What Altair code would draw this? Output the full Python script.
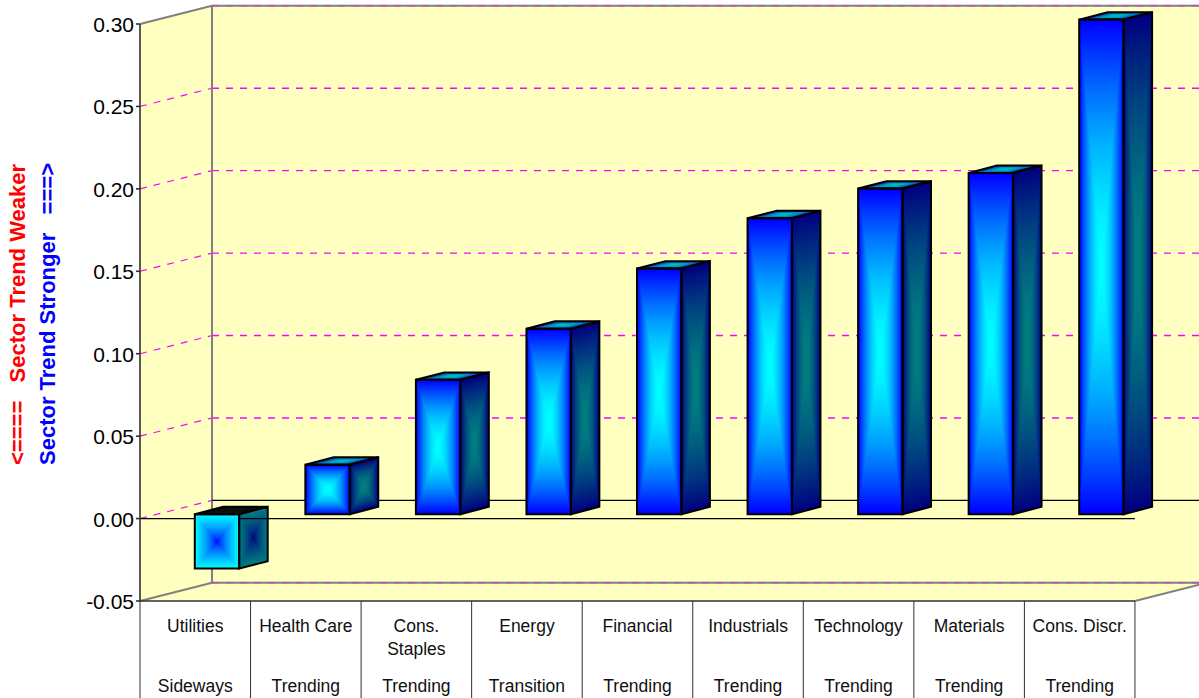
import altair as alt
import pandas as pd

# Sector trend readings, weakest to strongest
sectors = ["Utilities", "Health Care", "Cons.", "Energy", "Financial",
           "Industrials", "Technology", "Materials", "Cons. Discr."]
second_lines = ["", "", "Staples", "", "", "", "", "", ""]
states = ["Sideways", "Trending", "Trending", "Transition", "Trending",
          "Trending", "Trending", "Trending", "Trending"]
values = [-0.033, 0.030, 0.0815, 0.1125, 0.149, 0.1795, 0.1975, 0.207, 0.30]
y_ticks = [-0.05, 0.00, 0.05, 0.10, 0.15, 0.20, 0.25, 0.30]
grid_levels = [0.05, 0.10, 0.15, 0.20, 0.25]

# Pixel density of the two scales, used to express the fake perspective
PX_PER_CAT = 110.55
PX_PER_UNIT = 1648.6
WALL_DX = 72 / PX_PER_CAT
WALL_DY = 18.2 / PX_PER_UNIT
BAR_INSET = 54.8 / PX_PER_CAT
BAR_WIDTH = 44.4 / PX_PER_CAT
BAR_DX = 28.5 / PX_PER_CAT
BAR_DY = 7.4 / PX_PER_UNIT
BAR_LIFT = 4.4 / PX_PER_UNIT
LEVELS = 64
FALLOFF_UP = 1.7    # keeps the bright centre of a rising bar wide
FALLOFF_DOWN = 0.7  # keeps the dark centre of a falling bar small

WALL = "#FFFFC0"
GRID = "#FF00FF"
EDGE = "#808080"
FONT = "Liberation Sans"

x_scale = alt.Scale(domain=[-140 / PX_PER_CAT, 1059 / PX_PER_CAT], nice=False, zero=False)
y_scale = alt.Scale(domain=[-0.05 - 97 / PX_PER_UNIT, 0.30 + 24 / PX_PER_UNIT], nice=False, zero=False)
X = alt.X("x:Q", scale=x_scale, axis=None)
Y = alt.Y("y:Q", scale=y_scale, axis=None)


def mix(a, b, t, power):
    s = t ** power
    return "#" + "".join(f"{round(p + (q - p) * s):02x}" for p, q in zip(a, b))


CYAN, BLUE = (0, 255, 255), (0, 0, 255)
TEAL, NAVY = (0, 128, 128), (0, 0, 128)
TOP_IN, TOP_OUT = (0, 191, 191), (0, 0, 191)
DARK = (17, 17, 17)

front, side, top, side_edge, top_edge = [], [], [], [], []
for i, value in enumerate(values):
    left = i + BAR_INSET
    right = left + BAR_WIDTH
    low = min(value, 0) + BAR_LIFT
    high = max(value, 0) + BAR_LIFT
    rising = value >= 0
    for k in range(LEVELS, 0, -1):
        t = k / LEVELS
        key = i * 1000 + (LEVELS - k)
        u0, u1 = 0.5 - t / 2, 0.5 + t / 2
        y0 = low + (high - low) * u0
        y1 = low + (high - low) * u1
        front.append({
            "x": left + BAR_WIDTH * u0, "x2": left + BAR_WIDTH * u1, "y": y0, "y2": y1,
            "c": mix(CYAN, BLUE, t, FALLOFF_UP) if rising else mix(BLUE, CYAN, t, FALLOFF_DOWN),
        })
        side_color = mix(TEAL, NAVY, t, FALLOFF_UP) if rising else mix(NAVY, TEAL, t, FALLOFF_DOWN)
        for u in (u0, u1):
            side.append({"x": right + BAR_DX * u, "y": y0 + BAR_DY * u,
                         "y2": y1 + BAR_DY * u, "k": key, "c": side_color})
        top_color = mix(TOP_IN, TOP_OUT, t, FALLOFF_UP) if rising else mix(DARK, DARK, t, 1)
        for v in (u0, u1):
            top.append({"x": left + BAR_WIDTH * u0 + BAR_DX * v,
                        "x2": left + BAR_WIDTH * u1 + BAR_DX * v,
                        "y": high + BAR_DY * v, "k": key, "c": top_color})
    for u in (0, 1):
        side_edge.append({"x": right + BAR_DX * u, "y": low + BAR_DY * u,
                          "y2": high + BAR_DY * u, "k": i})
        top_edge.append({"x": left + BAR_DX * u, "x2": right + BAR_DX * u,
                         "y": high + BAR_DY * u, "k": i})

front_edge = [{"x": i + BAR_INSET, "x2": i + BAR_INSET + BAR_WIDTH,
               "y": min(v, 0) + BAR_LIFT, "y2": max(v, 0) + BAR_LIFT}
              for i, v in enumerate(values)]

Y_MIN, Y_MAX = y_ticks[0], y_ticks[-1]
N = len(sectors)
X_END = N + WALL_DX


def table(rows):
    return alt.Chart(pd.DataFrame(rows))


# Left wall, floor and back wall
left_wall = table([
    {"x": 0, "y": Y_MIN, "y2": Y_MAX},
    {"x": WALL_DX, "y": Y_MIN + WALL_DY, "y2": Y_MAX + WALL_DY},
]).mark_area(color=WALL).encode(x=X, y=Y, y2="y2:Q")
back_wall = table([{"x": WALL_DX, "x2": X_END, "y": Y_MIN + WALL_DY, "y2": Y_MAX + WALL_DY}]).mark_rect(
    color=WALL).encode(x=X, x2="x2:Q", y=Y, y2="y2:Q")
floor = table([
    {"x": 0, "x2": N, "y": Y_MIN},
    {"x": WALL_DX, "x2": X_END, "y": Y_MIN + WALL_DY},
]).mark_area(color=WALL, orient="horizontal").encode(x=X, x2="x2:Q", y=Y)


def rules(rows, **style):
    return table(rows).mark_rule(**style).encode(x=X, x2="x2:Q", y=Y, y2="y2:Q")


grid_back = rules(
    [{"x": WALL_DX, "x2": X_END, "y": v + WALL_DY, "y2": v + WALL_DY} for v in grid_levels],
    color=GRID, strokeWidth=1.4, strokeDash=[7, 7])
grid_side = rules(
    [{"x": 0, "x2": WALL_DX, "y": v, "y2": v + WALL_DY} for v in grid_levels + [0.0]],
    color=GRID, strokeWidth=1.2, strokeDash=[7, 7])
frame_grey = rules(
    [
        {"x": WALL_DX, "x2": X_END, "y": Y_MAX + WALL_DY, "y2": Y_MAX + WALL_DY},
        {"x": WALL_DX, "x2": X_END, "y": Y_MIN + WALL_DY, "y2": Y_MIN + WALL_DY},
        {"x": WALL_DX, "x2": WALL_DX, "y": Y_MIN + WALL_DY, "y2": Y_MAX + WALL_DY},
        {"x": 0, "x2": WALL_DX, "y": Y_MAX, "y2": Y_MAX + WALL_DY},
        {"x": 0, "x2": WALL_DX, "y": Y_MIN, "y2": Y_MIN + WALL_DY},
        {"x": N, "x2": X_END, "y": Y_MIN, "y2": Y_MIN + WALL_DY},
    ],
    color=EDGE, strokeWidth=2)
frame_dash = rules(
    [{"x": WALL_DX, "x2": X_END, "y": Y_MAX + WALL_DY, "y2": Y_MAX + WALL_DY},
     {"x": WALL_DX, "x2": X_END, "y": Y_MIN + WALL_DY, "y2": Y_MIN + WALL_DY}],
    color=GRID, strokeWidth=2, strokeDash=[7, 7], opacity=0.3)
frame_dark = rules(
    [
        {"x": 0, "x2": 0, "y": Y_MIN, "y2": Y_MAX},
        {"x": 0, "x2": N, "y": Y_MIN, "y2": Y_MIN},
    ] + [{"x": -4 / PX_PER_CAT, "x2": 0, "y": v, "y2": v} for v in y_ticks],
    color="#303030", strokeWidth=1.6)
zero_back = rules([{"x": WALL_DX, "x2": X_END, "y": WALL_DY, "y2": WALL_DY}], color="black", strokeWidth=1.2)
zero_front = rules([{"x": 0, "x2": N, "y": 0.0, "y2": 0.0}], color="black", strokeWidth=1.2)

# Bars: each face is a stack of shrinking shapes forming a from-centre gradient
side_fill = table(side).mark_area(strokeWidth=0).encode(
    x=X, y=Y, y2="y2:Q", detail="k:Q", color=alt.Color("c:N", scale=None))
top_fill = table(top).mark_area(orient="horizontal", strokeWidth=0).encode(
    x=X, x2="x2:Q", y=Y, detail="k:Q", color=alt.Color("c:N", scale=None))
front_fill = table(front).mark_rect(strokeWidth=0).encode(
    x=X, x2="x2:Q", y=Y, y2="y2:Q", color=alt.Color("c:N", scale=None))
side_line = table(side_edge).mark_area(fillOpacity=0, stroke="black", strokeWidth=2).encode(
    x=X, y=Y, y2="y2:Q", detail="k:Q")
top_line = table(top_edge).mark_area(orient="horizontal", fillOpacity=0, stroke="black", strokeWidth=2).encode(
    x=X, x2="x2:Q", y=Y, detail="k:Q")
front_line = table(front_edge).mark_rect(fillOpacity=0, stroke="black", strokeWidth=2).encode(
    x=X, x2="x2:Q", y=Y, y2="y2:Q")

# Category table under the floor
table_lines = table([{"x": i} for i in range(N + 1)]).mark_rule(color="#303030", strokeWidth=1).encode(
    x=X, y=alt.value(601), y2=alt.value(698))
cat_x = [{"x": i + 0.5, "a": a, "b": b, "s": s}
         for i, (a, b, s) in enumerate(zip(sectors, second_lines, states))]


def cat_text(field, y_px):
    return table(cat_x).mark_text(font=FONT, fontSize=17.5, color="#101010").encode(
        x=X, y=alt.value(y_px), text=f"{field}:N")


tick_text = table([{"y": v, "t": f"{v:.2f}"} for v in y_ticks]).mark_text(
    font=FONT, fontSize=21, align="right", color="black", dy=2).encode(
    x=alt.value(134), y=Y, text="t:N")

weak_title = table([{"t": "<====\u00a0\u00a0\u00a0Sector Trend Weaker"}]).mark_text(
    font=FONT, fontSize=22, fontWeight="bold", angle=270, align="left", color="#FF0000").encode(
    x=alt.value(18), y=alt.value(465), text="t:N")
strong_title = table([{"t": "Sector Trend Stronger\u00a0\u00a0\u00a0===>"}]).mark_text(
    font=FONT, fontSize=22, fontWeight="bold", angle=270, align="left", color="#0000FF").encode(
    x=alt.value(48), y=alt.value(465), text="t:N")

chart = alt.layer(
    left_wall, back_wall, floor, grid_back, grid_side, frame_grey, frame_dash, zero_back,
    side_fill, top_fill, zero_front, front_fill, side_line, top_line, front_line,
    frame_dark, table_lines,
    cat_text("a", 627), cat_text("b", 650), cat_text("s", 687),
    tick_text, weak_title, strong_title,
).properties(
    width=1199, height=698, padding=0, background="white",
    autosize=alt.AutoSizeParams(type="none"),
).configure_view(stroke=None)

chart.save("out.html", embed_options={"renderer": "svg", "actions": False})
